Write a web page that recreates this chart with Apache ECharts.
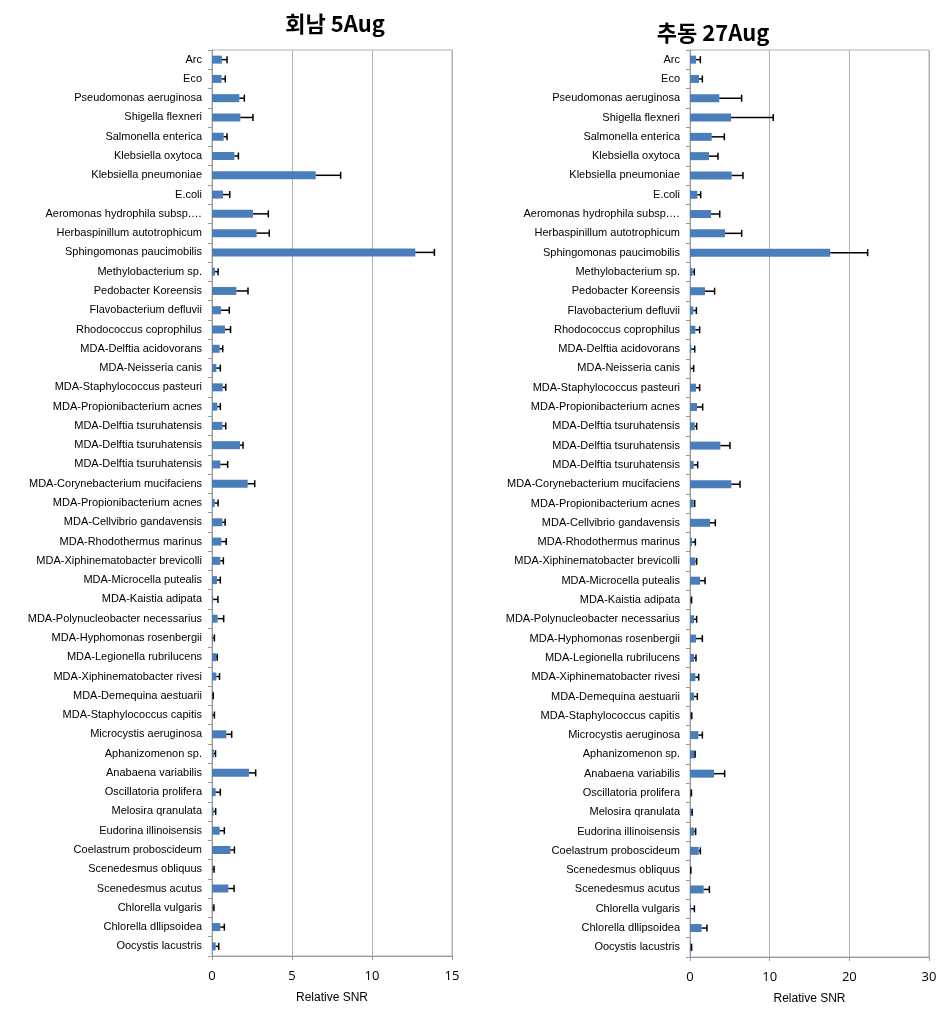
<!DOCTYPE html>
<html><head><meta charset="utf-8">
<script src="https://cdn.jsdelivr.net/npm/echarts@6/dist/echarts.min.js"></script>
<style>html,body{margin:0;padding:0;background:#fff}#c{width:947px;height:1020px}</style>
</head><body><div id="c"></div>
<script>
const categories = ["Arc","Eco","Pseudomonas aeruginosa","Shigella flexneri","Salmonella enterica","Klebsiella oxytoca","Klebsiella pneumoniae","E.coli","Aeromonas hydrophila subsp.…","Herbaspinillum autotrophicum","Sphingomonas paucimobilis","Methylobacterium sp.","Pedobacter Koreensis","Flavobacterium defluvii","Rhodococcus coprophilus","MDA-Delftia acidovorans","MDA-Neisseria canis","MDA-Staphylococcus pasteuri","MDA-Propionibacterium acnes","MDA-Delftia tsuruhatensis","MDA-Delftia tsuruhatensis","MDA-Delftia tsuruhatensis","MDA-Corynebacterium mucifaciens","MDA-Propionibacterium acnes","MDA-Cellvibrio gandavensis","MDA-Rhodothermus marinus","MDA-Xiphinematobacter brevicolli","MDA-Microcella putealis","MDA-Kaistia adipata","MDA-Polynucleobacter necessarius","MDA-Hyphomonas rosenbergii","MDA-Legionella rubrilucens","MDA-Xiphinematobacter rivesi","MDA-Demequina aestuarii","MDA-Staphylococcus capitis","Microcystis aeruginosa","Aphanizomenon sp.","Anabaena variabilis","Oscillatoria prolifera","Melosira qranulata","Eudorina illinoisensis","Coelastrum proboscideum","Scenedesmus obliquus","Scenedesmus acutus","Chlorella vulgaris","Chlorella dllipsoidea","Oocystis lacustris"];

const titleLeft = "회남 5Aug";
const titleRight = "추동 27Aug";
const axisName = "Relative SNR";

const valuesLeft = [0.62,0.6,1.71,1.77,0.73,1.4,6.48,0.69,2.56,2.79,12.71,0.19,1.52,0.56,0.81,0.48,0.27,0.67,0.33,0.65,1.75,0.52,2.23,0.17,0.65,0.58,0.52,0.31,0.07,0.35,0.05,0.27,0.27,0.04,0.03,0.9,0.12,2.31,0.23,0.1,0.48,1.15,0.05,1.02,0.04,0.52,0.23];
const errorsLeft = [0.32,0.23,0.31,0.79,0.21,0.25,1.56,0.42,0.96,0.79,1.19,0.19,0.73,0.52,0.35,0.19,0.25,0.19,0.19,0.21,0.19,0.46,0.44,0.21,0.17,0.31,0.19,0.21,0.3,0.38,0.1,0.06,0.2,0.04,0.12,0.33,0.1,0.42,0.29,0.13,0.29,0.25,0.08,0.36,0.08,0.25,0.19];

const valuesRight = [0.75,1.13,3.68,5.15,2.72,2.38,5.23,0.92,2.64,4.39,17.6,0.33,1.88,0.42,0.67,0.17,0.1,0.75,0.88,0.59,3.81,0.46,5.19,0.46,2.51,0.25,0.67,1.26,0.05,0.5,0.75,0.5,0.67,0.5,0.1,1.05,0.59,3.01,0.1,0.15,0.54,1.09,0.05,1.72,0.13,1.46,0.2];
const errorsRight = [0.55,0.42,2.8,5.3,1.59,1.13,1.42,0.42,1.09,2.1,4.7,0.21,1.21,0.38,0.54,0.42,0.36,0.46,0.71,0.25,1.21,0.5,1.09,0.13,0.67,0.42,0.17,0.63,0.15,0.33,0.8,0.25,0.42,0.42,0.12,0.5,0.05,1.34,0.08,0.12,0.17,0.21,0.06,0.71,0.42,0.67,0];

const ticksLeft = {min:0, max:15, interval:5};
const ticksRight = {min:0, max:30, interval:10};

const BAR_COLOR = '#4a7ebb';
const LABEL_FONT = '"Liberation Sans", Arial, sans-serif';

function errData(vals, errs){
  return vals.map((v,i)=>[i, v, v+errs[i]]);
}
function renderErr(params, api){
  const idx = api.value(0);
  const p0 = api.coord([api.value(1), idx]);
  const p1 = api.coord([api.value(2), idx]);
  const h = 3.5;
  const st = {stroke:'#000', lineWidth:1.5};
  return {type:'group', children:[
    {type:'line', shape:{x1:p0[0], y1:p0[1], x2:p1[0], y2:p1[1]}, style:st},
    {type:'line', shape:{x1:p1[0], y1:p1[1]-h, x2:p1[0], y2:p1[1]+h}, style:st}
  ]};
}
function xAx(gi, t){
  return {
    gridIndex: gi, type:'value', min:t.min, max:t.max, interval:t.interval,
    name: axisName, nameLocation:'middle', nameGap:36, nameMoveOverlap:false,
    nameTextStyle:{fontSize:12, color:'#000', fontFamily:LABEL_FONT},
    axisLine:{show:true, lineStyle:{color:'#999'}},
    axisTick:{show:true, length:4, lineStyle:{color:'#999'}},
    axisLabel:{fontSize:13, color:'#000', margin:14, fontFamily:'"Open Sans", sans-serif'},
    splitLine:{show:true, lineStyle:{color:'#b0b0b0', width:1}}
  };
}
function yAx(gi){
  return {
    gridIndex: gi, type:'category', data:categories, inverse:true,
    axisLine:{show:true, lineStyle:{color:'#999'}},
    axisTick:{show:true, length:4, inside:false, lineStyle:{color:'#999'}},
    axisLabel:{fontSize:11, color:'#000', margin:10, interval:0, fontFamily:LABEL_FONT},
    splitLine:{show:false}
  };
}

const chart = echarts.init(document.getElementById('c'), null, {renderer:'canvas'});
chart.setOption({
  animation:false,
  backgroundColor:'#fff',
  title:[
    {text:titleLeft, left:330, top:8, textAlign:'center', textStyle:{fontSize:22, fontWeight:'bold', color:'#000', fontFamily:'"Noto Sans CJK KR", sans-serif'}},
    {text:titleRight, left:708, top:17, textAlign:'center', textStyle:{fontSize:22, fontWeight:'bold', color:'#000', fontFamily:'"Noto Sans CJK KR", sans-serif'}}
  ],
  grid:[
    {left:212, right:495, top:50, bottom:64, show:true, borderColor:'#b0b0b0', borderWidth:1, containLabel:false},
    {left:690, right:18, top:50, bottom:63, show:true, borderColor:'#b0b0b0', borderWidth:1, containLabel:false}
  ],
  xAxis:[xAx(0, ticksLeft), xAx(1, ticksRight)],
  yAxis:[yAx(0), yAx(1)],
  series:[
    {type:'bar', xAxisIndex:0, yAxisIndex:0, data:valuesLeft, barWidth:8, itemStyle:{color:BAR_COLOR}},
    {type:'custom', xAxisIndex:0, yAxisIndex:0, data:errData(valuesLeft, errorsLeft), renderItem:renderErr, encode:{x:[1,2], y:0}, z:3},
    {type:'bar', xAxisIndex:1, yAxisIndex:1, data:valuesRight, barWidth:8, itemStyle:{color:BAR_COLOR}},
    {type:'custom', xAxisIndex:1, yAxisIndex:1, data:errData(valuesRight, errorsRight), renderItem:renderErr, encode:{x:[1,2], y:0}, z:3}
  ]
});
</script></body></html>
